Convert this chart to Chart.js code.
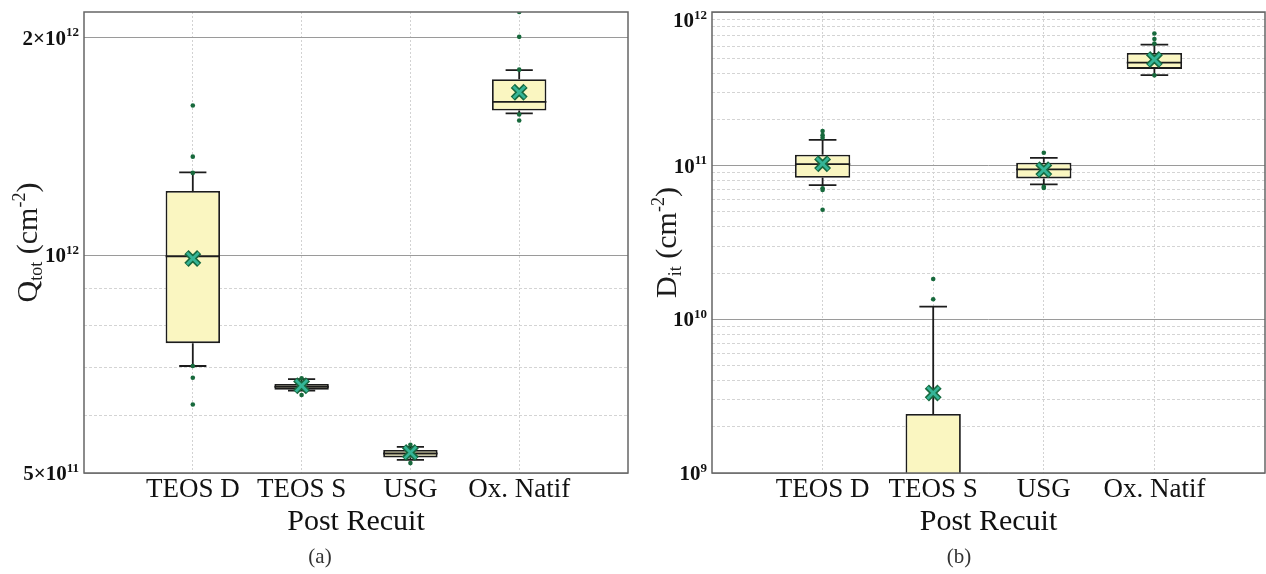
<!DOCTYPE html>
<html>
<head>
<meta charset="utf-8">
<script src="https://cdn.jsdelivr.net/npm/chart.js@4"></script>
<style>
  body { margin: 0; background: #fff; }
  #wrap { position: relative; width: 1266px; height: 574px; overflow: hidden; }
  canvas { position: absolute; top: 0; }
  .cap { position: absolute; top: 546px; width: 80px; text-align: center;
         font: 21px "Liberation Serif", serif; color: #333; line-height: 1; }
</style>
</head>
<body>
<div id="wrap">
  <canvas id="qtot" width="633" height="574" style="left:0"></canvas>
  <canvas id="dit" width="633" height="574" style="left:633px"></canvas>
  <div class="cap" style="left:280px">(a)</div>
  <div class="cap" style="left:919px">(b)</div>
</div>
<script>
const categories = ['TEOS D', 'TEOS S', 'USG', 'Ox. Natif'];

// (a) Q_tot (cm^-2)
const qtotLow = [7.03e11, 6.50e11, 5.214e11, 1.571e12];
const qtotQ1 = [7.56e11, 6.52e11, 5.255e11, 1.586e12];
const qtotMedian = [9.97e11, 6.58e11, 5.32e11, 1.63e12];
const qtotQ3 = [1.227e12, 6.64e11, 5.38e11, 1.752e12];
const qtotHigh = [1.302e12, 6.74e11, 5.435e11, 1.803e12];
const qtotMean = [9.9e11, 6.60e11, 5.336e11, 1.681e12];
const qtotPoints = [
  [1.611e12, 1.369e12, 1.30e12, 7.03e11, 6.77e11, 6.22e11],
  [6.76e11, 6.41e11],
  [5.47e11, 5.16e11],
  [2.17e12, 2.005e12, 1.806e12, 1.566e12, 1.536e12]
];
const qtotTickValues = [5e11, 1e12, 2e12];
const qtotTickBase = ['5×10', '10', '2×10'];
const qtotTickExp = ['11', '12', '12'];
const qtotMinorTicks = [6e11, 7e11, 8e11, 9e11];

// (b) D_it (cm^-2)
const ditLow = [7.48e10, 1e8, 7.56e10, 3.88e11];
const ditQ1 = [8.34e10, 3e8, 8.26e10, 4.263e11];
const ditMedian = [1.024e11, 6e8, 9.46e10, 4.69e11];
const ditQ3 = [1.178e11, 2.42e9, 1.045e11, 5.415e11];
const ditHigh = [1.473e11, 1.21e10, 1.125e11, 6.14e11];
const ditMean = [1.03e11, 3.32e9, 9.4e10, 4.91e11];
const ditPoints = [
  [1.68e11, 1.58e11, 1.52e11, 7.12e10, 6.95e10, 5.17e10],
  [1.83e10, 1.35e10],
  [1.213e11, 7.29e10, 7.15e10],
  [7.24e11, 6.68e11, 6.23e11, 3.87e11]
];
const ditTickValues = [1e9, 1e10, 1e11, 1e12];
const ditTickBase = ['10', '10', '10', '10'];
const ditTickExp = ['9', '10', '11', '12'];
const ditMinorTicks = [
  2e9, 3e9, 4e9, 5e9, 6e9, 7e9, 8e9, 9e9,
  2e10, 3e10, 4e10, 5e10, 6e10, 7e10, 8e10, 9e10,
  2e11, 3e11, 4e11, 5e11, 6e11, 7e11, 8e11, 9e11
];

const SERIF = '"Liberation Serif", "Times New Roman", serif';
const boxFill = '#faf6c1';
const ink = '#1c1c1c';
const dotGreen = '#17693c';
const markEdge = '#17693f';
const markFill = '#35b597';
const boxHalf = 0.25;
const capHalf = 0.125;

Chart.defaults.font.family = SERIF;

// whiskers, caps and median as one broken line
function whiskerLines(lo, q1, med, q3, hi) {
  const out = [];
  categories.forEach((c, i) => {
    const x = i + 1;
    const gap = { x, y: null };
    out.push({ x: x - capHalf, y: hi[i] }, { x: x + capHalf, y: hi[i] }, gap);
    out.push({ x, y: hi[i] }, { x, y: q3[i] }, gap);
    out.push({ x, y: q1[i] }, { x, y: lo[i] }, gap);
    out.push({ x: x - capHalf, y: lo[i] }, { x: x + capHalf, y: lo[i] }, gap);
    out.push({ x: x - boxHalf, y: med[i] }, { x: x + boxHalf, y: med[i] }, gap);
  });
  return out;
}

// draws runs of text, some raised / lowered, starting at (x, y) on the baseline
function richWidth(ctx, parts, fontFor) {
  let w = 0;
  parts.forEach(p => { ctx.font = fontFor(p); w += ctx.measureText(p.t).width; });
  return w;
}
function richDraw(ctx, parts, fontFor, x, y, size) {
  let cx = x;
  parts.forEach(p => {
    ctx.font = fontFor(p);
    const dy = p.sub ? size * 0.18 : p.sup ? -size * 0.4 : 0;
    ctx.fillText(p.t, cx, y + dy);
    cx += ctx.measureText(p.t).width;
  });
}

// frame, power-of-ten tick labels, rotated axis title
const decorPlugin = {
  id: 'decor',
  afterDraw(chart, args, opts) {
    const { ctx, chartArea: a } = chart;
    const y = chart.scales.y;
    ctx.save();
    ctx.strokeStyle = '#666';
    ctx.lineWidth = 1.5;
    ctx.strokeRect(a.left, a.top, a.right - a.left, a.bottom - a.top);

    // tick labels (top one kept inside the frame height)
    const tickSize = 21;
    const tickFont = p => 'bold ' + (p.sup ? 13 : tickSize) + 'px ' + SERIF;
    ctx.fillStyle = '#111';
    ctx.textBaseline = 'alphabetic';
    opts.tickValues.forEach((v, i) => {
      const parts = [{ t: opts.tickBase[i] }, { t: opts.tickExp[i], sup: true }];
      const w = richWidth(ctx, parts, tickFont);
      const py = Math.max(y.getPixelForValue(v), a.top + 8);
      richDraw(ctx, parts, tickFont, a.left - 5 - w, py + tickSize * 0.34, tickSize);
    });
    ctx.restore();

    // axis title
    const base = 30;
    const fontFor = p => (p.sub || p.sup ? Math.round(base * 0.6) : base) + 'px ' + SERIF;
    ctx.save();
    ctx.translate(opts.x, (a.top + a.bottom) / 2);
    ctx.rotate(-Math.PI / 2);
    ctx.fillStyle = ink;
    ctx.textBaseline = 'alphabetic';
    const total = richWidth(ctx, opts.parts, fontFor);
    richDraw(ctx, opts.parts, fontFor, -total / 2, 0, base);
    ctx.restore();
  }
};

function noPad(s) {
  s.paddingTop = 0;
  s.paddingBottom = 0;
  s.paddingLeft = 0;
  s.paddingRight = 0;
}

function makeBoxChart(id, d) {
  const majors = d.tickValues;
  const allTicks = majors.concat(d.minorTicks).sort((a, b) => a - b);
  const isMajor = v => majors.some(m => Math.abs(m - v) / m < 1e-6);
  const at = arr => categories.map((c, i) => ({ x: i + 1, y: arr[i] }));

  return new Chart(document.getElementById(id), {
    type: 'scatter',
    data: {
      datasets: [
        {
          type: 'bar',
          data: categories.map((c, i) => ({ x: i + 1, y: [d.q1[i], d.q3[i]] })),
          backgroundColor: boxFill,
          borderColor: ink,
          borderWidth: 1.8,
          borderSkipped: false,
          barPercentage: 0.5,
          categoryPercentage: 1,
          order: 4
        },
        {
          type: 'line',
          data: whiskerLines(d.low, d.q1, d.median, d.q3, d.high),
          borderColor: ink,
          borderWidth: 1.8,
          pointRadius: 0,
          spanGaps: false,
          fill: false,
          order: 3
        },
        {
          data: categories.flatMap((c, i) => d.points[i].map(v => ({ x: i + 1, y: v }))),
          pointRadius: 2.3,
          pointBorderWidth: 0,
          pointBackgroundColor: dotGreen,
          order: 2
        },
        {
          data: at(d.mean),
          pointStyle: 'crossRot',
          pointRadius: 9,
          pointBorderWidth: 6,
          pointBorderColor: markEdge,
          order: 1
        },
        {
          data: at(d.mean),
          pointStyle: 'crossRot',
          pointRadius: 8.2,
          pointBorderWidth: 2.8,
          pointBorderColor: markFill,
          order: 0
        }
      ]
    },
    options: {
      responsive: false,
      animation: false,
      layout: { autoPadding: false, padding: { top: 12, right: d.padRight, left: 0, bottom: 0 } },
      plugins: {
        legend: { display: false },
        tooltip: { enabled: false },
        decor: {
          x: d.titleX, parts: d.titleParts,
          tickValues: d.tickValues, tickBase: d.tickBase, tickExp: d.tickExp
        }
      },
      scales: {
        x: {
          type: 'linear',
          min: 0,
          max: 5,
          offset: false,
          afterBuildTicks: s => { s.ticks = categories.map((c, i) => ({ value: i + 1 })); },
          afterFit: s => { s.height = 101; noPad(s); },
          ticks: {
            callback: v => categories[v - 1],
            font: { size: 27 },
            color: '#111',
            padding: 1,
            autoSkip: false,
            maxRotation: 0
          },
          grid: { color: '#d2d2d2', drawTicks: false, offset: false },
          border: { display: false, dash: [2, 2] },
          title: {
            display: true,
            text: 'Post Recuit',
            font: { size: 30 },
            color: '#111',
            padding: { top: 0, bottom: 34 }
          }
        },
        y: {
          type: 'logarithmic',
          min: d.min,
          max: d.max,
          afterBuildTicks: s => { s.ticks = allTicks.map(v => ({ value: v })); },
          afterFit: s => { s.width = d.axisWidth; noPad(s); },
          ticks: { display: false },
          grid: {
            drawTicks: false,
            lineWidth: 1,
            color: c => (c.tick && isMajor(c.tick.value) ? '#9a9a9a' : '#d4d4d4')
          },
          border: {
            display: false,
            dash: c => (c.tick && isMajor(c.tick.value) ? [] : [3, 2])
          }
        }
      }
    },
    plugins: [decorPlugin]
  });
}

makeBoxChart('qtot', {
  low: qtotLow, q1: qtotQ1, median: qtotMedian, q3: qtotQ3, high: qtotHigh,
  mean: qtotMean, points: qtotPoints,
  tickValues: qtotTickValues, tickBase: qtotTickBase, tickExp: qtotTickExp,
  minorTicks: qtotMinorTicks,
  min: 5e11, max: 2.17e12,
  axisWidth: 84, padRight: 5, titleX: 37,
  titleParts: [{ t: 'Q' }, { t: 'tot', sub: true }, { t: ' (cm' }, { t: '-2', sup: true }, { t: ')' }]
});

makeBoxChart('dit', {
  low: ditLow, q1: ditQ1, median: ditMedian, q3: ditQ3, high: ditHigh,
  mean: ditMean, points: ditPoints,
  tickValues: ditTickValues, tickBase: ditTickBase, tickExp: ditTickExp,
  minorTicks: ditMinorTicks,
  min: 1e9, max: 1e12,
  axisWidth: 79, padRight: 1, titleX: 43,
  titleParts: [{ t: 'D' }, { t: 'it', sub: true }, { t: ' (cm' }, { t: '-2', sup: true }, { t: ')' }]
});
</script>
</body>
</html>
